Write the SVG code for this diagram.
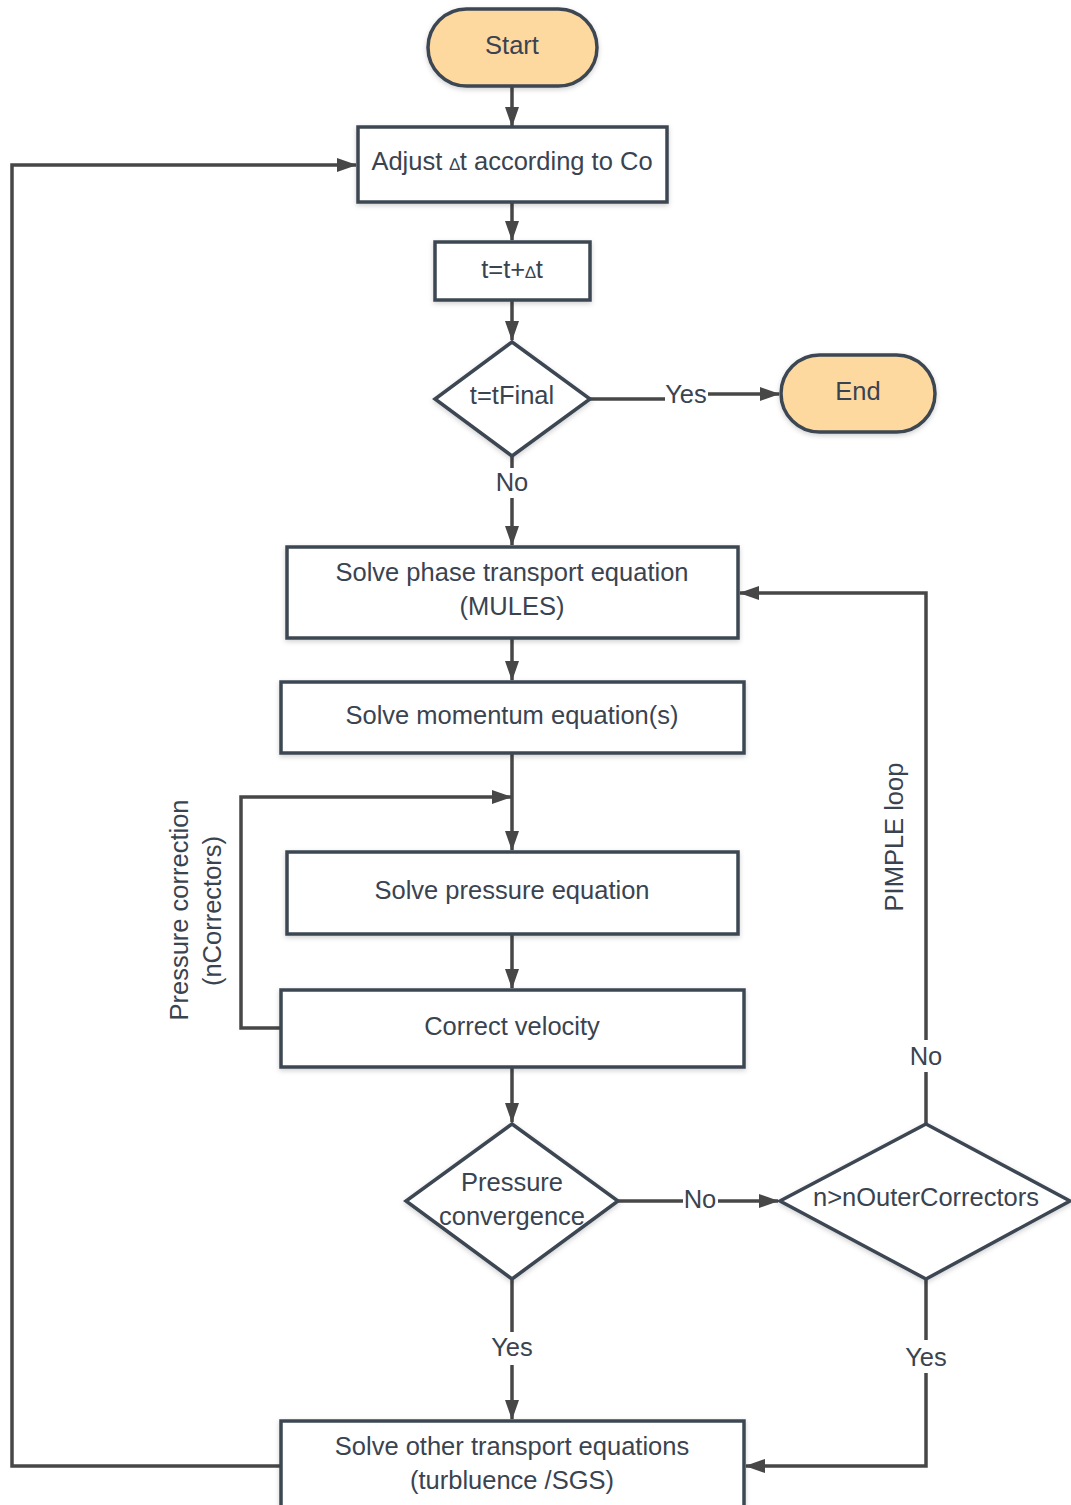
<svg xmlns="http://www.w3.org/2000/svg" width="1071" height="1505" viewBox="0 0 1071 1505">
<defs>
<style>
.node{fill:#ffffff;stroke:#3d4752;stroke-width:3.5;filter:url(#sh)}
.term{fill:#fdd9a0;stroke:#3d4752;stroke-width:3.5;filter:url(#sh)}
.t{font-family:"Liberation Sans",Arial,sans-serif;font-size:25.5px;fill:#3a4350;text-anchor:middle}
.c{fill:none;stroke:#474747;stroke-width:3.5}
.a{marker-end:url(#ah)}
</style>
<marker id="ah" markerUnits="userSpaceOnUse" markerWidth="20" markerHeight="14" refX="19" refY="7" orient="auto">
<path d="M0,0 L20,7 L0,14 z" fill="#474747"/>
</marker>
<filter id="sh" x="-10%" y="-10%" width="120%" height="130%">
<feDropShadow dx="0" dy="2" stdDeviation="2.5" flood-color="#000" flood-opacity="0.18"/>
</filter>
</defs>

<g id="connectors">
<path class="c a" d="M512,86 V126"/>
<path class="c a" d="M512,202 V240"/>
<path class="c a" d="M512,300 V340"/>
<path class="c" d="M590,399 H665"/>
<path class="c a" d="M708,394 H779"/>
<path class="c" d="M512,456 V468"/>
<path class="c a" d="M512,498 V545"/>
<path class="c a" d="M512,638 V680"/>
<path class="c a" d="M512,753 V850"/>
<path class="c a" d="M281,1028 H241 V797 H511"/>
<path class="c a" d="M512,934 V988"/>
<path class="c a" d="M512,1067 V1122"/>
<path class="c" d="M618,1201 H683"/>
<path class="c a" d="M718,1201 H778"/>
<path class="c" d="M926,1124 V1072"/>
<path class="c a" d="M926,1040 V593 H740"/>
<path class="c" d="M512,1279 V1332"/>
<path class="c a" d="M512,1365 V1419"/>
<path class="c" d="M926,1279 V1340"/>
<path class="c a" d="M926,1373 V1466 H746"/>
<path class="c a" d="M281,1466 H12 V165 H356"/>
<text class="t" x="686" y="403">Yes</text>
<text class="t" x="512" y="491">No</text>
<text class="t" x="700" y="1208">No</text>
<text class="t" x="926" y="1065">No</text>
<text class="t" x="512" y="1356">Yes</text>
<text class="t" x="926" y="1366">Yes</text>
<text class="t" transform="translate(188,910) rotate(-90)">Pressure correction</text>
<text class="t" transform="translate(221,911) rotate(-90)">(nCorrectors)</text>
<text class="t" transform="translate(903,837) rotate(-90)">PIMPLE loop</text>
</g>

<g id="start">
<rect class="term" x="428" y="9" width="169" height="77" rx="38.5"/>
<text class="t" x="512" y="54">Start</text>
</g>
<g id="adjust">
<rect class="node" x="358" y="127" width="309" height="75"/>
<text class="t" x="512" y="170">Adjust <tspan font-size="17">∆</tspan>t according to Co</text>
</g>
<g id="increment">
<rect class="node" x="435" y="242" width="155" height="58"/>
<text class="t" x="512" y="278">t=t+<tspan font-size="17">∆</tspan>t</text>
</g>
<g id="tfinal">
<polygon class="node" points="512,342 590,399 512,456 435,399"/>
<text class="t" x="512" y="404">t=tFinal</text>
</g>
<g id="end">
<rect class="term" x="781" y="355" width="154" height="77" rx="38.5"/>
<text class="t" x="858" y="400">End</text>
</g>
<g id="phase">
<rect class="node" x="287" y="547" width="451" height="91"/>
<text class="t" x="512" y="581">Solve phase transport equation</text>
<text class="t" x="512" y="615">(MULES)</text>
</g>
<g id="momentum">
<rect class="node" x="281" y="682" width="463" height="71"/>
<text class="t" x="512" y="724">Solve momentum equation(s)</text>
</g>
<g id="pressure">
<rect class="node" x="287" y="852" width="451" height="82"/>
<text class="t" x="512" y="899">Solve pressure equation</text>
</g>
<g id="velocity">
<rect class="node" x="281" y="990" width="463" height="77"/>
<text class="t" x="512" y="1035">Correct velocity</text>
</g>
<g id="convergence">
<polygon class="node" points="512,1124 618,1201 512,1279 406,1201"/>
<text class="t" x="512" y="1191">Pressure</text>
<text class="t" x="512" y="1225">convergence</text>
</g>
<g id="outer">
<polygon class="node" points="926,1124 1070,1201 926,1279 780,1201"/>
<text class="t" x="926" y="1206">n&gt;nOuterCorrectors</text>
</g>
<g id="other">
<rect class="node" x="281" y="1421" width="463" height="100"/>
<text class="t" x="512" y="1455">Solve other transport equations</text>
<text class="t" x="512" y="1489">(turbluence /SGS)</text>
</g>
</svg>
